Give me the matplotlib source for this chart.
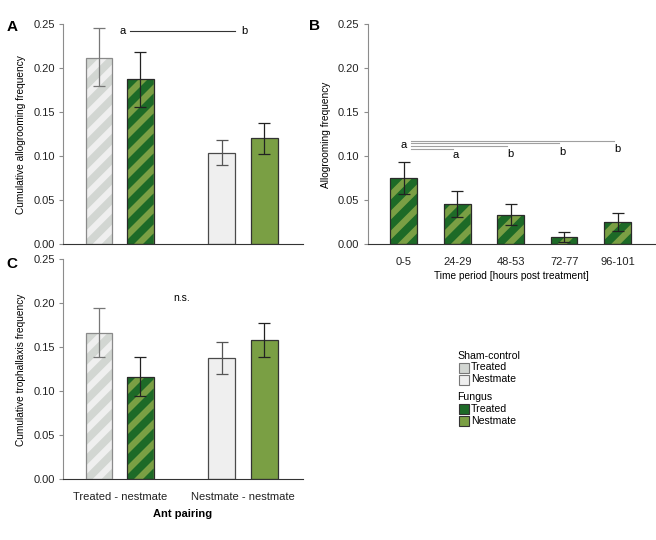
import numpy as np
import matplotlib
matplotlib.use('Agg')
import matplotlib.pyplot as plt
from matplotlib.patches import Rectangle, Polygon

plt.rcParams['font.family'] = ['Liberation Sans', 'DejaVu Sans']

# Panel A: cumulative allogrooming (sham treated, fungus treated, sham nestmate, fungus nestmate)
groom_mean = [0.212, 0.1875, 0.1042, 0.1212]
groom_lo   = [0.1795, 0.1564, 0.0898, 0.1030]
groom_hi   = [0.2462, 0.2186, 0.1189, 0.1383]

# Panel B: allogrooming over time (fungus treated)
periods    = ['0-5', '24-29', '48-53', '72-77', '96-101']
time_mean  = [0.0750, 0.0462, 0.0333, 0.0080, 0.0254]
time_lo    = [0.0568, 0.0307, 0.0216, 0.0023, 0.0152]
time_hi    = [0.0932, 0.0606, 0.0455, 0.0144, 0.0352]
time_sig   = ['a', 'b', 'b', 'b']

# Panel C: cumulative trophallaxis
troph_mean = [0.1667, 0.1167, 0.1375, 0.1583]
troph_lo   = [0.1386, 0.0943, 0.1193, 0.1394]
troph_hi   = [0.1947, 0.1386, 0.1557, 0.1773]

pairings = ['Treated - nestmate', 'Nestmate - nestmate']
legend_groups = ['Sham-control', 'Fungus']
legend_items = ['Treated', 'Nestmate']

GREY_L, GREY_S = '#efefef', '#d2d6d2'
GREEN_L, GREEN_D = '#7a9f44', '#1d6a27'
styles = [  # face, stripe, edge, errorbar colour
    (GREY_L, GREY_S, '#8a8a8a', '#777777'),
    (GREEN_L, GREEN_D, '#2a2a2a', '#222222'),
    (GREY_L, None, '#4a4a4a', '#555555'),
    (GREEN_L, None, '#333333', '#222222'),
]

fig = plt.figure(figsize=(6.56, 5.40), dpi=100)
W, H = 656, 540


def add_axes_px(x0, x1, ytop, ybot):
    ax = fig.add_axes([x0 / W, 1 - ybot / H, (x1 - x0) / W, (ybot - ytop) / H])
    ax.px_size = (x1 - x0, ybot - ytop)
    return ax


def style_axes(ax):
    for s in ('top', 'right'):
        ax.spines[s].set_visible(False)
    ax.spines['left'].set_color('#8c8c8c')
    ax.spines['left'].set_bounds(0, 0.25)
    ax.spines['bottom'].set_color('#333333')
    ax.set_ylim(0, 0.25)
    ax.set_yticks(np.arange(0, 0.26, 0.05))
    ax.set_yticklabels([f'{v:.2f}' for v in np.arange(0, 0.26, 0.05)])
    ax.tick_params(axis='y', length=3, width=0.8, color='#8c8c8c', pad=3,
                   labelsize=8, labelcolor='#222222')
    ax.tick_params(axis='x', length=0, pad=9, labelsize=8, labelcolor='#222222')


def stripes(ax, x, w, top, color, period=20.0):
    # 45 degree bands (in pixels) built in data units, clipped to the bar
    xl, yl = ax.get_xlim(), ax.get_ylim()
    sx = ax.px_size[0] / (xl[1] - xl[0])
    sy = ax.px_size[1] / (yl[1] - yl[0])
    x0, x1 = (x - w / 2) * sx, (x + w / 2) * sx
    y0, y1 = 0.0, top * sy
    h = period * 0.55
    c = (y0 - x1) - period
    clip = Rectangle((x - w / 2, 0), w, top, transform=ax.transData)
    while c < (y1 - x0) + period:
        pts = np.array([(x0, x0 + c), (x1, x1 + c), (x1, x1 + c + h), (x0, x0 + c + h)])
        pts[:, 0] /= sx
        pts[:, 1] /= sy
        poly = Polygon(pts, closed=True, facecolor=color, edgecolor='none', zorder=2.1)
        ax.add_patch(poly)
        poly.set_clip_path(clip)
        c += period


def draw_bars(ax, xs, means, lo, hi, width, kinds):
    for x, m, l, u, k in zip(xs, means, lo, hi, kinds):
        face, stripe, edge, ecol = styles[k]
        ax.bar(x, m, width, color=face, edgecolor='none', zorder=2)
        if stripe is not None:
            stripes(ax, x, width, m, stripe)
        ax.bar(x, m, width, fill=False, edgecolor=edge, linewidth=0.9, zorder=3)
        ax.errorbar(x, m, yerr=[[m - l], [u - m]], fmt='none', ecolor=ecol,
                    elinewidth=0.9, capsize=4.3, capthick=0.9, zorder=4)


pair_x = np.array([1.35, 2.9, 5.95, 7.55])

# Panel A
axA = add_axes_px(63, 303, 24.33, 244.33)
axA.set_xlim(0, 9)
style_axes(axA)
axA.set_xticks([])
draw_bars(axA, pair_x, groom_mean, groom_lo, groom_hi, 1.0, range(4))
axA.plot([2.52, 6.45], [0.2424, 0.2424], color='#333333', lw=0.8)
axA.text(2.25, 0.2424, 'a', ha='center', va='center', fontsize=8)
axA.text(6.8, 0.2424, 'b', ha='center', va='center', fontsize=8)
axA.set_ylabel('Cumulative allogrooming frequency', fontsize=7.3, labelpad=5)

# Panel B
axB = add_axes_px(367.7, 655, 24.33, 244.33)
axB.set_xlim(-0.674, 4.70)
style_axes(axB)
xb = np.arange(len(periods))
draw_bars(axB, xb, time_mean, time_lo, time_hi, 0.5, [1] * len(periods))
axB.set_xticks(xb)
axB.set_xticklabels(periods)
axB.set_xlabel('Time period [hours post treatment]', fontsize=7.3, labelpad=3)
axB.set_ylabel('Allogrooming frequency', fontsize=7.3, labelpad=5)
line_y = [0.1083, 0.1121, 0.1151, 0.1174]
lab_y = [0.1011, 0.1023, 0.1053, 0.1083]
lab_x = [0.98, 2.0, 2.96, 3.99]
for i, lab in enumerate(time_sig):
    axB.plot([0.136, lab_x[i] - 0.06], [line_y[i], line_y[i]], color='#a0a0a0', lw=0.8)
    axB.text(lab_x[i], lab_y[i], lab, ha='center', va='center', fontsize=8)
axB.text(0.005, 0.1125, 'a', ha='center', va='center', fontsize=8)

# Panel C
axC = add_axes_px(63, 303, 259.33, 479.33)
axC.set_xlim(0, 9)
style_axes(axC)
draw_bars(axC, pair_x, troph_mean, troph_lo, troph_hi, 1.0, range(4))
axC.set_xticks([(pair_x[0] + pair_x[1]) / 2, (pair_x[2] + pair_x[3]) / 2])
axC.set_xticklabels(pairings)
axC.set_xlabel('Ant pairing', fontsize=8, fontweight='bold', labelpad=5)
axC.set_ylabel('Cumulative trophallaxis frequency', fontsize=7.3, labelpad=5)
axC.text(4.45, 0.2057, 'n.s.', ha='center', va='center', fontsize=7.5)

# panel letters
for lab, x, y in [('A', 12, 27), ('B', 315, 26), ('C', 12, 264)]:
    fig.text(x / W, 1 - y / H, lab, fontsize=11, fontweight='bold', ha='center', va='center')

# legend
leg_colors = [[GREY_S, GREY_L], [GREEN_D, GREEN_L]]
leg_edges = [['#777777', '#777777'], ['#333333', '#333333']]
row_y = 356
for g, grp in enumerate(legend_groups):
    fig.text(457 / W, 1 - row_y / H, grp, fontsize=7.6, ha='left', va='center')
    row_y += 11.5
    for i, item in enumerate(legend_items):
        fig.patches.append(Rectangle((458.5 / W, 1 - (row_y + 5) / H), 10 / W, 10 / H,
                                     transform=fig.transFigure, facecolor=leg_colors[g][i],
                                     edgecolor=leg_edges[g][i], linewidth=0.8))
        fig.text(471 / W, 1 - row_y / H, item, fontsize=7.6, ha='left', va='center')
        row_y += 12
    row_y += 6

fig.savefig('out.png', dpi=100)
